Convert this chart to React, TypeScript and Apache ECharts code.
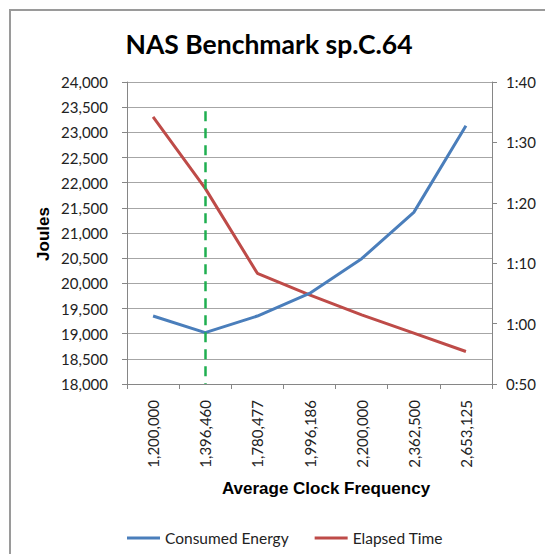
import React, { useEffect, useRef } from "react";
import * as echarts from "echarts";

const categories = ["1,200,000", "1,396,460", "1,780,477", "1,996,186", "2,200,000", "2,362,500", "2,653,125"];
const consumedEnergy = [19350, 19020, 19350, 19800, 20490, 21410, 23130];
// elapsed time in seconds
const elapsedTime = [5653, 4943, 4100, 3885, 3687, 3505, 3323];
const markerCategory = "1,396,460";
const markerTop = 23420;

const fmtTime = (s: number) => {
  const m = Math.round(s / 60);
  const h = Math.floor(m / 60);
  const mm = m % 60;
  return h + ":" + (mm < 10 ? "0" + mm : mm);
};

export default function App() {
  const ref = useRef<HTMLDivElement>(null);
  useEffect(() => {
    document.body.style.margin = "0";
    const chart = echarts.init(ref.current!, null, { renderer: "svg" });
    const axisColor = "#868686";
    const labelFont = "Lato";
    const labelSize = 15;
    chart.setOption({
      animation: false,
      backgroundColor: "#ffffff",
      title: {
        text: "NAS Benchmark sp.C.64",
        left: 264,
        top: 25,
        textAlign: "center",
        textStyle: { fontSize: 26.5, fontWeight: "bold", fontFamily: "Lato", color: "#000" },
      },
      grid: { left: 127, right: 53, top: 82, bottom: 170, containLabel: false },
      legend: {
        left: 122,
        top: 525,
        icon: "rect",
        itemWidth: 33,
        itemHeight: 3,
        itemGap: 26,
        textStyle: { fontSize: 15.5, fontFamily: labelFont, color: "#222" },
        data: ["Consumed Energy", "Elapsed Time"],
      },
      xAxis: {
        type: "category",
        data: categories,
        boundaryGap: true,
        axisLine: { lineStyle: { color: axisColor } },
        axisTick: { show: true, interval: 0, length: 5, lineStyle: { color: axisColor } },
        axisLabel: {
          rotate: 90,
          interval: 0,
          margin: 16,
          fontSize: labelSize,
          fontFamily: labelFont,
          color: "#222",
        },
        splitLine: { show: false },
      },
      yAxis: [
        {
          type: "value",
          min: 18000,
          max: 24000,
          interval: 500,
          position: "left",
          axisLine: { show: true, lineStyle: { color: axisColor } },
          axisTick: { show: true, length: 5, lineStyle: { color: axisColor } },
          axisLabel: {
            margin: 19,
            fontSize: labelSize,
            fontFamily: labelFont,
            color: "#222",
            formatter: (v: number) => v.toLocaleString("en-US"),
          },
          splitLine: { show: true, lineStyle: { color: "#a6a6a6", width: 1 } },
        },
        {
          type: "value",
          min: 3000,
          max: 6000,
          interval: 600,
          position: "right",
          axisLine: { show: true, lineStyle: { color: axisColor } },
          axisTick: { show: true, length: 5, lineStyle: { color: axisColor } },
          axisLabel: {
            margin: 14,
            fontSize: labelSize,
            fontFamily: labelFont,
            color: "#222",
            formatter: (v: number) => fmtTime(v),
          },
          splitLine: { show: false },
        },
      ],
      series: [
        {
          name: "Consumed Energy",
          type: "line",
          yAxisIndex: 0,
          data: consumedEnergy,
          symbol: "none",
          lineStyle: { color: "#4A7EBB", width: 3 },
          itemStyle: { color: "#4A7EBB" },
          z: 3,
          markLine: {
            silent: true,
            symbol: ["none", "none"],
            label: { show: false },
            lineStyle: { color: "#1FAF50", width: 2.5, type: [10, 7] },
            data: [
              [
                { coord: [markerCategory, markerTop] },
                { coord: [markerCategory, 18000] },
              ],
            ],
          },
        },
        {
          name: "Elapsed Time",
          type: "line",
          yAxisIndex: 1,
          data: elapsedTime,
          symbol: "none",
          lineStyle: { color: "#BE4B48", width: 3 },
          itemStyle: { color: "#BE4B48" },
          z: 2,
        },
      ],
      graphic: [
        {
          type: "rect",
          shape: { x: 10, y: 10, width: 600, height: 600 },
          style: { fill: "none", stroke: "#9a9a9a", lineWidth: 2 },
          silent: true,
        },
        {
          type: "text",
          x: 43,
          y: 234,
          rotation: Math.PI / 2,
          style: {
            text: "Joules",
            fontSize: 17,
            fontWeight: "bold",
            fontFamily: "Liberation Sans",
            fill: "#000",
            align: "center",
            verticalAlign: "middle",
          },
        },
        {
          type: "text",
          x: 326,
          y: 488,
          style: {
            text: "Average Clock Frequency",
            fontSize: 17,
            fontWeight: "bold",
            fontFamily: "Liberation Sans",
            fill: "#000",
            align: "center",
            verticalAlign: "middle",
          },
        },
      ],
    });
    return () => chart.dispose();
  }, []);
  return <div ref={ref} style={{ width: 545, height: 554 }} />;
}
